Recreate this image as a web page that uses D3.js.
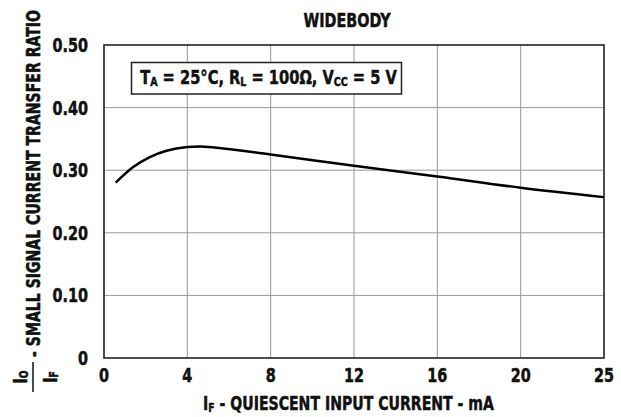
<!DOCTYPE html>
<html>
<head>
<meta charset="utf-8">
<script src="https://cdn.jsdelivr.net/npm/d3@7"></script>
<style>
  body { margin: 0; background: #fff; }
  text { font-family: 'DejaVu Sans Condensed', 'DejaVu Sans', sans-serif; font-weight: bold; fill: #111; stroke: #111; stroke-width: 0.5px; }
</style>
</head>
<body>
<div id="chart"></div>
<script>
/************************
 *  Data
 ************************/
const currentIF = [0.56, 1.4, 2.2, 3.0, 4.0, 4.6, 5.4, 8, 12, 16, 20, 24];
const transferRatio = [0.280, 0.305, 0.321, 0.331, 0.337, 0.338, 0.336, 0.325, 0.307, 0.290, 0.272, 0.257];
const xTickValues = [0, 4, 8, 12, 16, 20, 24];
const xTickLabels = ["0", "4", "8", "12", "16", "20", "25"];
const yTickValues = [0, 0.1, 0.2, 0.3, 0.4, 0.5];
const yTickLabels = ["0", "0.10", "0.20", "0.30", "0.40", "0.50"];

/************************
 *  Setup
 ************************/
const width = 621, height = 417;
const margin = { top: 45, right: 17, bottom: 59, left: 104 };

const svg = d3.select("#chart").append("svg")
  .attr("width", width)
  .attr("height", height);

const x = d3.scaleLinear().domain([0, 24]).range([margin.left, width - margin.right]);
const y = d3.scaleLinear().domain([0, 0.5]).range([height - margin.bottom, margin.top]);

// squeeze a text horizontally (in its own frame) to a target width
function fitText(textSel, targetWidth) {
  const w = textSel.node().getBBox().width;
  textSel.attr("transform", `scale(${targetWidth / w},1)`);
}

// place a text inside a translated (and maybe rotated) group
function placeText(x0, y0, rotate, anchor, size) {
  return svg.append("g")
    .attr("transform", `translate(${x0},${y0})` + (rotate ? ` rotate(${rotate})` : ""))
    .append("text")
    .style("text-anchor", anchor)
    .style("font-size", size + "px");
}

/************************
 *  Grid & frame
 ************************/
svg.append("g")
  .selectAll("line")
  .data(xTickValues.slice(1, -1))
  .enter().append("line")
  .attr("x1", d => x(d)).attr("x2", d => x(d))
  .attr("y1", y(0)).attr("y2", y(0.5))
  .style("stroke", "#999").style("stroke-width", 1);

svg.append("g")
  .selectAll("line")
  .data(yTickValues.slice(1, -1))
  .enter().append("line")
  .attr("x1", x(0)).attr("x2", x(24))
  .attr("y1", d => y(d)).attr("y2", d => y(d))
  .style("stroke", "#999").style("stroke-width", 1);

svg.append("rect")
  .attr("x", x(0)).attr("y", y(0.5))
  .attr("width", x(24) - x(0)).attr("height", y(0) - y(0.5))
  .style("fill", "none").style("stroke", "#222").style("stroke-width", 1.6);

/************************
 *  Tick labels
 ************************/
const tickSqueeze = 0.8;
yTickValues.forEach((d, i) => {
  const t = placeText(x(0) - 16, y(d) + 7, 0, "end", 20).text(yTickLabels[i]);
  t.attr("transform", `scale(${tickSqueeze},1)`);
});
xTickValues.forEach((d, i) => {
  const t = placeText(x(d), y(0) + 24, 0, "middle", 20).text(xTickLabels[i]);
  t.attr("transform", `scale(${tickSqueeze},1)`);
});

/************************
 *  Curve
 ************************/
const line = d3.line()
  .x((d, i) => x(currentIF[i]))
  .y(d => y(d))
  .curve(d3.curveMonotoneX);

svg.append("path")
  .datum(transferRatio)
  .attr("d", line)
  .style("fill", "none")
  .style("stroke", "#000")
  .style("stroke-width", 2.5);

/************************
 *  Titles & annotation
 ************************/
fitText(placeText(347, 27, 0, "middle", 20).text("WIDEBODY"), 88);

svg.append("rect")
  .attr("x", 131.5).attr("y", 62.5)
  .attr("width", 270).attr("height", 31.5)
  .style("fill", "#fff").style("stroke", "#222").style("stroke-width", 1.5);

const ann = placeText(268.5, 83.5, 0, "middle", 20);
ann.append("tspan").text("T");
ann.append("tspan").attr("dy", 2).style("font-size", "13px").text("A");
ann.append("tspan").attr("dy", -2).text(" = 25°C, R");
ann.append("tspan").attr("dy", 2).style("font-size", "13px").text("L");
ann.append("tspan").attr("dy", -2).text(" = 100Ω, V");
ann.append("tspan").attr("dy", 2).style("font-size", "13px").text("CC");
ann.append("tspan").attr("dy", -2).text(" = 5 V");
fitText(ann, 257);

const xt = placeText(348.5, 410, 0, "middle", 20);
xt.append("tspan").text("I");
xt.append("tspan").attr("dy", 2).style("font-size", "13px").text("F");
xt.append("tspan").attr("dy", -2).text(" - QUIESCENT INPUT CURRENT - mA");
fitText(xt, 291);

// y title: fraction Io / If then the words
svg.append("line")
  .attr("x1", 33).attr("x2", 33)
  .attr("y1", 362).attr("y2", 392)
  .style("stroke", "#111").style("stroke-width", 1.5);

const num = placeText(27, 377, -90, "middle", 19);
num.append("tspan").text("I");
num.append("tspan").attr("dy", 1).style("font-size", "12px").text("O");
num.attr("transform", "scale(0.85,1)");

const den = placeText(57, 377, -90, "middle", 19);
den.append("tspan").text("I");
den.append("tspan").attr("dy", 1).style("font-size", "12px").text("F");
den.attr("transform", "scale(0.85,1)");

fitText(placeText(40, 183.5, -90, "middle", 20).text("- SMALL SIGNAL CURRENT TRANSFER RATIO"), 347);
</script>
</body>
</html>
